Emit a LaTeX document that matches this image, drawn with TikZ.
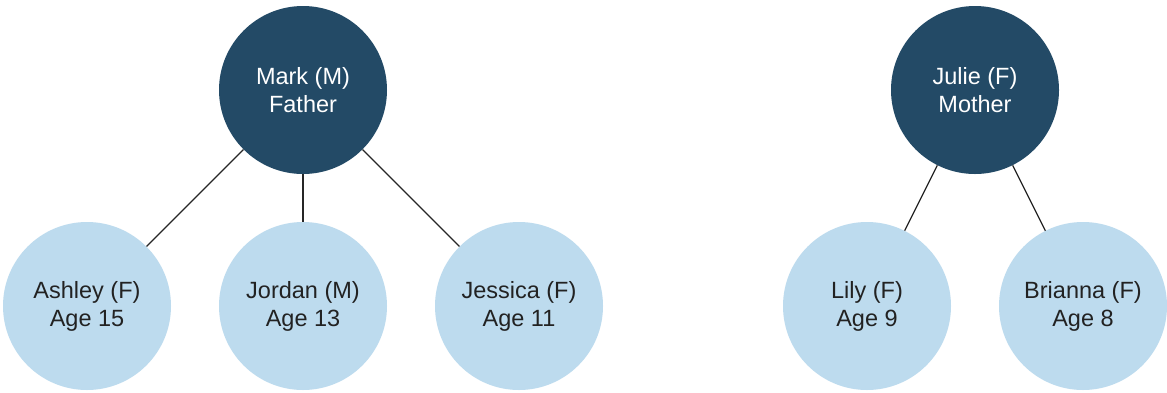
\documentclass[tikz,border=0pt]{standalone}
\usepackage{fontspec}
\setmainfont{Liberation Sans}
\definecolor{darkc}{HTML}{234A66}
\definecolor{lightc}{HTML}{BDDBEE}
\definecolor{txt}{HTML}{222222}
\begin{document}
\begin{tikzpicture}[x=1pt,y=-1pt,
  parent/.style={circle,fill=darkc,minimum size=168pt,inner sep=0pt,text=white,align=center,font=\fontsize{23.5}{28}\selectfont},
  child/.style={circle,fill=lightc,minimum size=168pt,inner sep=0pt,text=txt,align=center,font=\fontsize{23.5}{28}\selectfont},
  link/.style={draw=black!85,line width=1.2pt}]
\useasboundingbox[fill=white] (0,0) rectangle (1167,392);
\node[parent] (mark) at (303,90) {Mark (M)\\Father};
\node[child] (ashley) at (87,306) {Ashley (F)\\Age 15};
\node[child] (jordan) at (303,306) {Jordan (M)\\Age 13};
\node[child] (jessica) at (519,306) {Jessica (F)\\Age 11};
\node[parent] (julie) at (975,90) {Julie (F)\\Mother};
\node[child] (lily) at (867,306) {Lily (F)\\Age 9};
\node[child] (brianna) at (1083,306) {Brianna (F)\\Age 8};
\draw[link] (mark) -- (ashley);
\draw[link] (mark) -- (jordan);
\draw[link] (mark) -- (jessica);
\draw[link] (julie) -- (lily);
\draw[link] (julie) -- (brianna);
\end{tikzpicture}
\end{document}
